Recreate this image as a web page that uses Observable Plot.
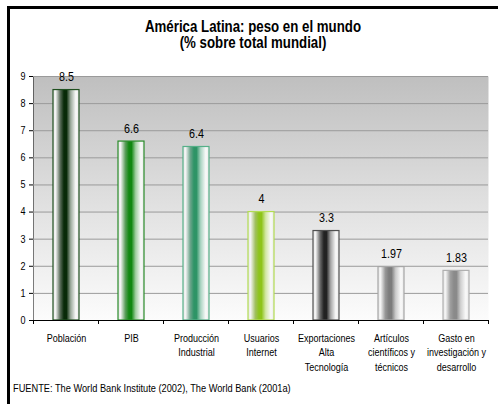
<!DOCTYPE html>
<html><head><meta charset="utf-8">
<script src="https://cdn.jsdelivr.net/npm/d3@7"></script>
<script src="https://cdn.jsdelivr.net/npm/@observablehq/plot@0.6"></script>
<style>
body{margin:0;background:#fff;width:498px;height:404px;overflow:hidden;position:relative;
 font-family:"Liberation Sans",Arial,sans-serif;}
#frame{position:absolute;left:7px;top:6px;width:600px;height:500px;border-left:3px solid #000;border-top:3px solid #000;}
.title{position:absolute;left:53px;width:400px;text-align:center;font-weight:bold;font-size:15.8px;color:#000;
 transform:scaleX(0.84);transform-origin:50% 50%;white-space:nowrap;line-height:16px;}
#chart{position:absolute;left:0;top:60px;}
#foot{position:absolute;left:13px;top:381px;font-size:11px;color:#000;white-space:nowrap;
 transform:scaleX(0.84);transform-origin:0 50%;line-height:14px;}
</style></head>
<body>
<div id="frame"></div>
<div class="title" style="top:19px">América Latina: peso en el mundo</div>
<div class="title" style="top:35px">(% sobre total mundial)</div>
<div id="chart"></div>
<div id="foot">FUENTE: The World Bank Institute (2002), The World Bank (2001a)</div>
<script>
const categories = ["Poblacion","PIB","Produccion","Internet","Exportaciones","Articulos","Gasto"];
const tickLabels = ["Población","PIB","Producción\nIndustrial","Usuarios\nInternet","Exportaciones\nAlta\nTecnología","Artículos\ncientíficos y\ntécnicos","Gasto en\ninvestigación y\ndesarrollo"];
const values = [8.5, 6.6, 6.4, 4, 3.3, 1.97, 1.83];
const centerColors = ["#082a08","#118811","#2e9466","#8ec41a","#222222","#7c7c7c","#8a8a8a"];
const strokeColors = ["#1f4f1f","#2a8c2a","#55b088","#b2dc52","#505050","#a6a6a6","#b0b0b0"];
const yTicks = [0,1,2,3,4,5,6,7,8,9];

const data = categories.map((c,i)=>({cat:c, label:tickLabels[i], value:values[i], fill:`url(#bar${i})`, stroke:strokeColors[i]}));

const font = '"Liberation Sans",Arial,sans-serif';

const plot = Plot.plot({
  width: 498, height: 330,
  marginLeft: 33, marginRight: 10, marginTop: 16, marginBottom: 70,
  style: {fontFamily: font, fontSize: "10.5px", color: "#000", background: "transparent"},
  x: {domain: categories, paddingInner: 0.6, paddingOuter: 0.3, axis: null},
  y: {domain: [0, 9], ticks: yTicks, tickSize: 4, tickPadding: 4, line: true, label: null, tickFormat: d => String(d)},
  color: {type: "identity"},
  marks: [
    Plot.frame({fill: "url(#bgGrad)", stroke: "none"}),
    Plot.ruleY(yTicks.slice(1), {stroke: "#9a9a9a", strokeWidth: 1}),
    Plot.barY(data, {x: "cat", y: "value", fill: "fill", stroke: "stroke", strokeWidth: 1.2}),
    Plot.text(data, {x: "cat", y: "value", text: d => String(d.value), dy: -13, fontSize: 12.5, fill: "#000"}),
    Plot.ruleY([0], {stroke: "#000", strokeWidth: 1.2}),
    Plot.text(data, {x: "cat", y: () => 0, text: "label", lineAnchor: "top", dy: 11, lineHeight: 1.38, fontSize: 10.5, fill: "#000"})
  ]
});
document.getElementById("chart").appendChild(plot);

const svg = d3.select(plot);
const defs = svg.insert("defs", ":first-child");
const bg = defs.append("linearGradient").attr("id","bgGrad").attr("x1",0).attr("y1",0).attr("x2",0).attr("y2",1);
bg.append("stop").attr("offset","0%").attr("stop-color","#bfbfbf");
bg.append("stop").attr("offset","55%").attr("stop-color","#e2e2e2");
bg.append("stop").attr("offset","100%").attr("stop-color","#fcfcfc");

centerColors.forEach((c,i)=>{
  const g = defs.append("linearGradient").attr("id",`bar${i}`).attr("x1",0).attr("y1",0).attr("x2",1).attr("y2",0);
  const grey = d3.interpolateRgb(c, "#b8b8b8")(0.45);
  const light = d3.interpolateRgb(c, "#ffffff")(0.6);
  const stops = [[0,"#e6e6e6"],[0.1,"#f4f4f4"],[0.28,grey],[0.42,c],[0.52,c],[0.68,light],[0.88,"#fafafa"],[1,"#e8e8e8"]];
  stops.forEach(([o,col])=>g.append("stop").attr("offset",o).attr("stop-color",col));
});

// condense all texts horizontally (narrow Arial look)
svg.selectAll("text").each(function(){
  const t = this.getAttribute("transform") || "";
  this.setAttribute("transform", (t + " scale(0.86,1)").trim());
});

// category boundary ticks below the x axis
const xs = plot.scale("x");
const ys = plot.scale("y");
const y0 = ys.apply(0);
const gap = xs.step - xs.bandwidth;
const bounds = categories.map(c => xs.apply(c) - gap/2).concat([xs.apply(categories[categories.length-1]) + xs.bandwidth + gap/2]);
svg.append("g").selectAll("line").data(bounds).join("line")
  .attr("x1", d=>d).attr("x2", d=>d).attr("y1", y0).attr("y2", y0+4)
  .attr("stroke","#000").attr("stroke-width",1);
</script>
</body></html>
